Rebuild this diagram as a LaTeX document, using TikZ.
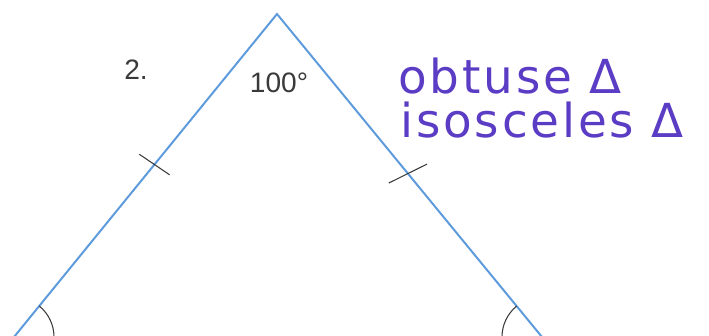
\documentclass[tikz,border=0pt]{standalone}
\usepackage{xcolor}
\usepackage{fontspec}
\usepackage{tikz}
\usetikzlibrary{calc,angles}
\setmainfont{Liberation Sans}
\newfontfamily\handfont[LetterSpace=6]{DejaVu Sans}
\definecolor{SideBlue}{HTML}{5E9BDD}
\definecolor{BaseTint}{HTML}{DDF3EA}
\definecolor{MarkGray}{HTML}{3A3A3A}
\definecolor{InkPurple}{HTML}{5B3CC4}
\tikzset{
  sideedge/.style={draw=SideBlue,line width=1.7pt,line join=miter},
  baseedge/.style={draw=BaseTint,line width=1.7pt},
  tickmark/.style={draw=MarkGray,line width=0.9pt},
  anglearc/.style={draw=MarkGray,line width=0.9pt,angle radius=1.2cm},
  printlbl/.style={inner sep=0pt,text=MarkGray,font=\fontsize{24}{26}\selectfont},
  inklbl/.style={inner sep=0pt,anchor=base west,text=InkPurple,
                 font=\handfont\fontsize{40}{44}\selectfont}
}

\begin{document}
\begin{tikzpicture}[x=0.03cm,y=-0.03cm]
  \useasboundingbox (0,0) rectangle (709,335);

  \coordinate (A) at (277,14);
  \coordinate (L) at (14,337);
  \coordinate (R) at (542,337);

  \draw[baseedge](L)--(R);
  \draw[sideedge](L)--(A)--(R);

  \path (A)--(L) coordinate[pos=0.466] (tickL);
  \path (A)--(R) coordinate[pos=0.494] (tickR);
  \draw[tickmark]($(tickL)!0.55cm!-85:(A)$)--($(tickL)!0.55cm!95:(A)$);
  \draw[tickmark]($(tickR)!0.64cm!-103:(A)$)--($(tickR)!0.64cm!77:(A)$);

  \pic[anglearc]{angle=R--L--A};
  \pic[anglearc]{angle=A--R--L};

  \node[printlbl] (num) at (136,70) {2.};
  \node[printlbl] (apex) at (279,83) {100°};

  \node[inklbl] (kind1) at (398,93) {obtuse Δ};
  \node[inklbl] (kind2) at (400,137) {isosceles Δ};
\end{tikzpicture}
\end{document}
